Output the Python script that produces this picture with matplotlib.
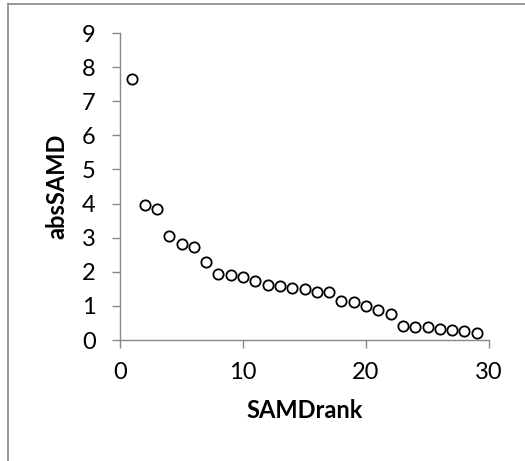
import numpy as np
import matplotlib.pyplot as plt
from matplotlib.lines import Line2D

plt.rcParams['font.family'] = ['Lato', 'DejaVu Sans']

# data
rank = list(range(1, 30))
abs_samd = [7.64, 3.96, 3.83, 3.05, 2.80, 2.74, 2.29, 1.94, 1.90, 1.85,
            1.72, 1.60, 1.59, 1.52, 1.50, 1.41, 1.40, 1.13, 1.10, 1.00,
            0.88, 0.76, 0.42, 0.37, 0.37, 0.33, 0.30, 0.27, 0.20]
xticks = [0, 10, 20, 30]
yticks = list(range(0, 10))

W, H = 525, 461
fig = plt.figure(figsize=(W / 100, H / 100), dpi=100)
ax = fig.add_axes([120 / W, 1 - 340 / H, (489 - 120) / W, (340 - 33) / H])

ax.plot(rank, abs_samd, 'o', ms=7.4, mfc='white', mec='black', mew=1.3,
        clip_on=False)

ax.set_xlim(0, 30)
ax.set_ylim(0, 9)
ax.set_xticks(xticks)
ax.set_yticks(yticks)

grey = '#888888'
for s in ['top', 'right']:
    ax.spines[s].set_visible(False)
for s in ['left', 'bottom']:
    ax.spines[s].set_color(grey)
    ax.spines[s].set_linewidth(1.0)
ax.tick_params(direction='out', length=5.5, width=1.0, color=grey,
               labelsize=17)
ax.tick_params(axis='y', pad=12)
ax.tick_params(axis='x', pad=10)

ax.set_xlabel('SAMDrank', fontsize=17, fontweight='bold', labelpad=12)
ax.set_ylabel('absSAMD', fontsize=17, fontweight='bold', labelpad=10)

# chart border (cut off at right and bottom)
fig.add_artist(Line2D([8 / W, 8 / W], [0, 1 - 4 / H], color=grey, lw=1.2,
                      transform=fig.transFigure))
fig.add_artist(Line2D([8 / W, 1], [1 - 4 / H, 1 - 4 / H], color=grey, lw=1.2,
                      transform=fig.transFigure))

fig.savefig('out.png', dpi=100)
